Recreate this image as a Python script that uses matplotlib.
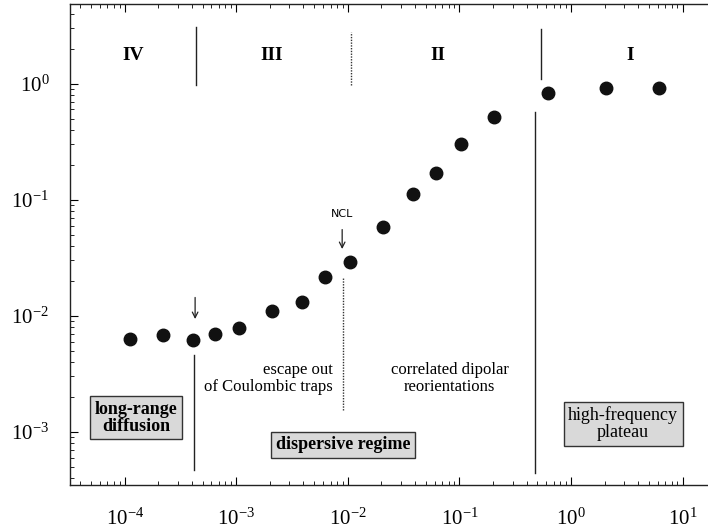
import numpy as np
import matplotlib
matplotlib.use("Agg")
import matplotlib.pyplot as plt

plt.rcParams['font.family'] = 'serif'
plt.rcParams['font.serif'] = ['Liberation Serif', 'DejaVu Serif']
plt.rcParams['mathtext.fontset'] = 'custom'
plt.rcParams['mathtext.rm'] = 'Liberation Serif'
plt.rcParams['mathtext.it'] = 'Liberation Serif:italic'
plt.rcParams['mathtext.bf'] = 'Liberation Serif:bold'

# measured points (frequency, normalised value)
freq = [1.12e-4, 2.21e-4, 4.10e-4, 6.46e-4, 1.06e-3, 2.09e-3, 3.89e-3, 6.25e-3,
        1.05e-2, 2.07e-2, 3.84e-2, 6.17e-2, 0.103, 0.204, 0.617, 2.06, 6.15]
value = [6.3e-3, 6.86e-3, 6.21e-3, 7.0e-3, 7.88e-3, 1.10e-2, 1.32e-2, 2.17e-2,
         2.92e-2, 5.85e-2, 0.113, 0.171, 0.304, 0.519, 0.836, 0.924, 0.924]

regime_names = ['IV', 'III', 'II', 'I']
regime_x = [1.19e-4, 2.09e-3, 6.43e-2, 3.38]
regime_y = 1.74

fig = plt.figure(figsize=(7.08, 5.31), dpi=100)
ax = fig.add_axes([0.099, 0.087, 0.901, 0.906])

ax.set_xscale('log')
ax.set_yscale('log')
ax.set_xlim(10**-4.489, 10**1.228)
ax.set_ylim(10**-3.457, 10**0.69)

ax.plot(freq, value, 'o', color='#111111', ms=9, zorder=3)

# region separators (upper and lower pieces)
ax.plot([4.37e-4, 4.37e-4], [0.98, 3.10], color='#222222', lw=1)
ax.plot([4.19e-4, 4.19e-4], [4.70e-4, 4.61e-3], color='#222222', lw=1)
ax.plot([1.06e-2, 1.06e-2], [0.98, 2.81], color='#333333', lw=1, ls=(0, (1, 1)))
ax.plot([9.06e-3, 9.06e-3], [1.55e-3, 2.17e-2], color='#333333', lw=1, ls=(0, (1, 1)))
ax.plot([0.538, 0.538], [1.10, 2.98], color='#222222', lw=1)
ax.plot([0.476, 0.476], [4.43e-4, 0.574], color='#222222', lw=1)

for name, xr in zip(regime_names, regime_x):
    ax.text(xr, regime_y, name, ha='center', va='center', fontsize=14,
            fontweight='bold')

# arrows
ax.annotate('', xy=(4.28e-4, 8.87e-3), xytext=(4.28e-4, 1.52e-2),
            arrowprops=dict(arrowstyle='->', color='#222222', lw=0.9))
ax.annotate('', xy=(8.9e-3, 3.56e-2), xytext=(8.9e-3, 5.85e-2),
            arrowprops=dict(arrowstyle='->', color='#222222', lw=0.9))
ax.text(8.9e-3, 7.6e-2, 'NCL', ha='center', va='center', fontsize=8,
        family='DejaVu Sans')

ax.text(7.37e-3, 2.86e-3, 'escape out\nof Coulombic traps', ha='right',
        va='center', multialignment='right', fontsize=12, linespacing=1.1)
ax.text(8.22e-2, 2.86e-3, 'correlated dipolar\nreorientations', ha='center',
        va='center', multialignment='center', fontsize=12, linespacing=1.1)

box = dict(boxstyle='square,pad=0.25', fc='#d9d9d9', ec='#333333', lw=1)
ax.text(1.27e-4, 1.32e-3, 'long-range\ndiffusion', ha='center', va='center',
        fontsize=13, fontweight='bold', linespacing=1.0, bbox=box)
ax.text(9.08e-3, 7.7e-4, 'dispersive regime', ha='center', va='center',
        fontsize=13, fontweight='bold', bbox=box)
ax.text(2.93, 1.17e-3, 'high-frequency\nplateau', ha='center', va='center',
        fontsize=13, linespacing=1.0, bbox=box)

ax.spines['right'].set_visible(False)
for s in ['left', 'bottom', 'top']:
    ax.spines[s].set_linewidth(1)
    ax.spines[s].set_color('#222222')

ax.tick_params(which='both', direction='in', top=True, right=False)
ax.tick_params(which='major', length=6, labelsize=15)
ax.tick_params(which='minor', length=3)
ax.tick_params(axis='x', which='major', pad=17)
ax.tick_params(axis='y', which='major', pad=15)

fig.savefig('out.png', dpi=100)
